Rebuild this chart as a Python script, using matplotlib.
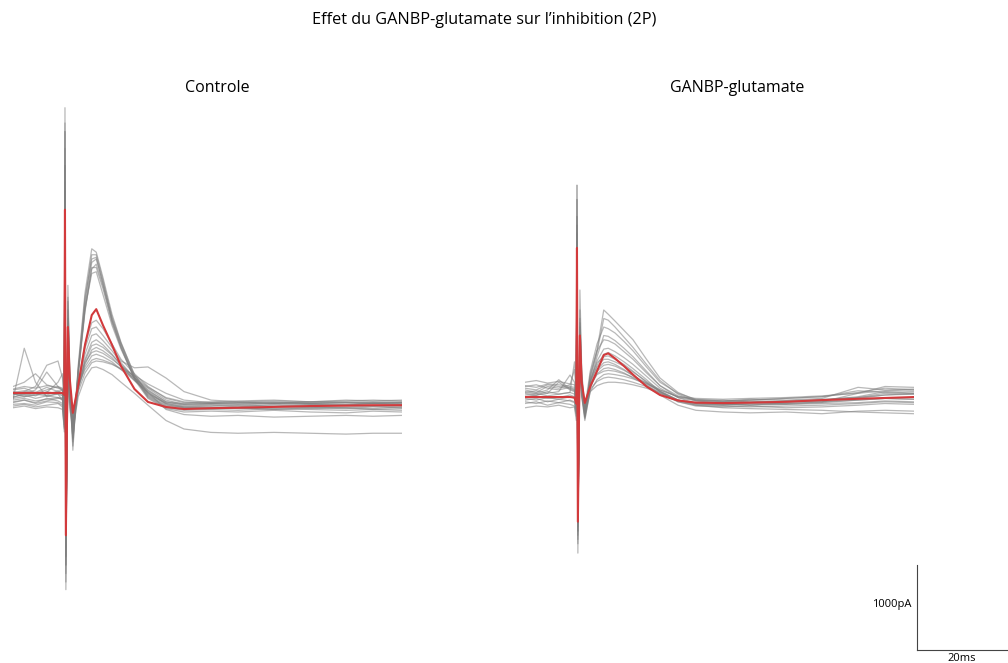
import numpy as np
import matplotlib
matplotlib.use('Agg')
import matplotlib.pyplot as plt

plt.rcParams['font.family'] = ['Open Sans', 'DejaVu Sans']

# time axis (ms), shared by both panels
t_ms = [0, 2.5, 5, 7.5, 10, 11.0, 11.4, 11.55, 11.75, 12.2, 12.6, 13.3, 14.5, 16,
        17.5, 18.5, 20, 22, 24, 27, 30, 34, 38, 44, 50, 58, 66, 74, 80, 86.4]

# Controle : individual sweeps (pA)
ctrl_sweeps = [
    [-30, 20, -10, 40, 10, -60, -300, 3380, -2290, 1290, 300, -650, 350, 1200, 1720, 1680, 1380, 950, 620, 230, 10, -100, -130, -120, -140, -110, -130, -120, -100, -110],
    [60, 80, 30, 0, 50, 20, -200, 3100, -2100, 1000, 200, -500, 280, 1100, 1650, 1650, 1350, 900, 600, 200, -20, -140, -170, -160, -150, -170, -150, -160, -140, -150],
    [-80, -60, -90, -40, -70, -100, -350, 2900, -1900, 900, 150, -450, 320, 1150, 1600, 1620, 1300, 870, 560, 180, -40, -160, -200, -190, -200, -180, -200, -210, -190, -200],
    [10, 0, 30, 90, 40, 60, -150, 2700, -2000, 1100, 250, -550, 260, 1050, 1560, 1600, 1320, 920, 610, 240, 20, -90, -110, -100, -90, -80, -100, -90, -80, -90],
    [-40, -20, 10, -10, -30, -50, -250, 2500, -1800, 800, 100, -600, 300, 1000, 1480, 1540, 1280, 880, 580, 210, -10, -130, -150, -140, -160, -150, -140, -150, -160, -140],
    [30, 50, 20, 60, 100, 80, -100, 2300, -1700, 700, 180, -400, 250, 980, 1500, 1500, 1250, 850, 560, 190, 0, -120, -140, -130, -120, -130, -110, -120, -130, -120],
    [-110, -100, -120, -80, -90, -120, -400, 3200, -2200, 1150, 220, -520, 240, 1020, 1430, 1450, 1180, 820, 540, 200, -30, -150, -180, -170, -180, -160, -170, -180, -170, -180],
    [100, 150, 250, 120, 80, 60, -200, 2100, -1500, 600, 100, -300, 150, 600, 850, 880, 780, 600, 420, 250, 100, -40, -90, -80, -70, -60, -80, -70, -60, -70],
    [-50, 550, 150, -20, 20, 0, -150, 1900, -1300, 500, 50, -250, 100, 550, 780, 800, 700, 560, 400, 320, 330, 200, 40, -60, -80, -70, -80, -60, -70, -60],
    [0, 40, 100, 350, 400, 200, -100, 2000, -1400, 450, 0, -350, 120, 480, 700, 720, 640, 520, 380, 200, 60, -80, -120, -110, -120, -100, -110, -120, -100, -110],
    [-90, -60, -100, -70, -40, -30, -250, 1800, -1600, 400, -50, -400, 80, 420, 620, 650, 590, 480, 350, 170, 30, -110, -150, -160, -150, -170, -160, -150, -170, -160],
    [40, 10, 60, 270, 100, 50, -120, 2200, -1200, 350, 0, -300, 100, 400, 580, 600, 560, 470, 360, 200, 50, -80, -100, -90, -80, -100, -90, -80, -90, -80],
    [-130, -110, -140, -120, -100, -140, -435, 1700, -1900, 500, -100, -500, 60, 360, 530, 560, 520, 440, 330, 180, 40, -100, -140, -150, -140, -130, -150, -140, -130, -140],
    [20, -20, 0, 30, 150, 250, -50, 2400, -1500, 300, 50, -250, 120, 380, 500, 520, 490, 420, 340, 220, 90, -30, -80, -100, -90, -100, -80, -90, -100, -90],
    [-20, 0, -40, -10, 10, -10, -200, 1900, -1700, 400, -20, -350, 90, 330, 460, 480, 450, 390, 300, 170, 30, -170, -230, -250, -240, -260, -250, -240, -250, -240],
    [70, 100, 80, 110, 90, 70, -100, 2000, -1300, 300, 30, -200, 110, 300, 410, 430, 410, 370, 300, 200, 80, -60, -110, -100, -110, -90, -100, -110, -90, -100],
    [-60, -40, -70, -50, -30, -60, -300, 1800, -2000, 250, -60, -300, 40, 260, 380, 400, 390, 360, 310, 230, 130, 20, -60, -90, -100, -90, -100, -90, -100, -90],
    [-150, -130, -160, -140, -150, -170, -380, 1600, -1600, 200, -150, -400, -20, 200, 320, 330, 300, 240, 150, 20, -120, -300, -400, -440, -450, -440, -450, -460, -450, -450],
]
ctrl_mean = [24, 24, 24, 24, 24, 24, 0, 2180, -1650, 800, 200, -210, 118, 590, 940, 1010, 820, 590, 340, 70, -82, -141, -165, -155, -150, -140, -130, -125, -120, -120]

# GANBP-glutamate : individual sweeps (pA)
gan_sweeps = [
    [60, 30, 100, 80, 120, 300, 0, 2470, -1860, 1235, 300, -260, 250, 530, 1000, 950, 870, 760, 650, 420, 200, 30, -60, -80, -60, -40, -20, 30, 80, 60],
    [-20, 0, 20, 150, 60, 40, -150, 2300, -1700, 1000, 200, -220, 200, 500, 900, 880, 800, 680, 560, 360, 170, 10, -70, -100, -120, -90, -60, -20, 40, 20],
    [100, 120, 80, 60, 90, 70, -80, 2100, -1600, 900, 250, -150, 280, 600, 800, 780, 730, 630, 520, 330, 150, 20, -50, -70, -50, -60, -40, 90, 60, 70],
    [-60, -40, -80, -50, -70, -90, -200, 2000, -1750, 850, 150, -250, 150, 450, 700, 690, 640, 550, 450, 280, 110, -30, -100, -120, -100, -110, -90, -60, -40, -50],
    [30, 50, 20, 40, 235, 150, -50, 1900, -1500, 800, 100, -200, 220, 520, 650, 640, 600, 510, 420, 260, 110, -10, -60, -60, -80, -70, -50, -30, 0, 20],
    [80, 60, 120, 100, 80, 60, -100, 1800, -1400, 700, 100, -200, 150, 400, 540, 550, 510, 440, 360, 220, 80, -30, -70, -90, -70, -80, -60, -30, 20, 10],
    [-100, -80, -120, -90, -110, -130, -250, 1700, -1500, 600, 50, -260, 120, 350, 480, 500, 460, 390, 310, 180, 40, -80, -120, -130, -140, -130, -120, -100, -80, -90],
    [0, 20, -10, 10, 30, 390, 100, 1600, -1300, 650, 80, -180, 180, 380, 450, 460, 420, 360, 280, 150, 40, -60, -100, -110, -90, -100, -80, 20, 100, 90],
    [150, 170, 140, 160, 130, 120, -50, 1750, -1450, 550, 120, -150, 160, 330, 420, 420, 390, 340, 270, 160, 60, -20, -40, -50, -40, -30, -10, 20, 50, 60],
    [-150, -130, -140, -120, -150, -140, -300, 1500, -1600, 500, 0, -300, 80, 300, 380, 390, 360, 300, 230, 110, 0, -120, -180, -200, -210, -200, -220, -190, -180, -190],
    [40, 20, 60, 180, 70, 50, -120, 1650, -1350, 600, 60, -200, 100, 280, 350, 360, 340, 290, 230, 140, 40, -60, -90, -80, -90, -70, -80, -60, -40, -50],
    [-40, -60, -30, -50, -20, -40, -180, 1550, -1550, 450, 30, -230, 90, 250, 310, 320, 300, 260, 200, 120, 20, -80, -130, -140, -130, -150, -140, -120, -100, -110],
    [110, 90, 130, 120, 100, 90, -60, 1700, -1250, 500, 90, -170, 120, 240, 280, 290, 280, 250, 210, 140, 60, -20, -60, -70, -60, -40, -20, 50, 30, 40],
    [-80, -100, -70, -90, -60, -80, -220, 1450, -1650, 400, -20, -280, 40, 180, 240, 250, 240, 220, 190, 130, 50, -60, -120, -150, -160, -170, -180, -200, -210, -220],
    [20, 0, 40, 10, 30, 10, -150, 1600, -1400, 450, 50, -200, 70, 160, 200, 210, 200, 180, 150, 100, 30, -70, -110, -120, -110, -100, -80, -40, 0, 10],
    [-20, -10, -40, -30, 0, -20, -170, 1500, -1500, 350, 0, -230, 40, 110, 140, 150, 150, 140, 120, 80, 20, -60, -100, -110, -120, -110, -100, -90, -70, -80],
]
gan_mean = [-24, -24, -24, -24, -24, -30, -100, 1730, -1490, 700, 150, -94, 100, 280, 470, 490, 430, 340, 240, 100, 0, -65, -90, -95, -90, -80, -60, -45, -35, -24]

titles = ['Controle', 'GANBP-glutamate']
suptitle = "Effet du GANBP-glutamate sur l\u2019inhibition (2P)"

W, H = 1008, 663
fig = plt.figure(figsize=(W / 100, H / 100), dpi=100)

# pixel scale: 4.5 px per ms, 0.085 px per pA
xlim = (0, 389 / 4.5)
ylim = ((395 - 600) / 0.085, (395 - 100) / 0.085)
gray = '#7f7f7f'
red = '#d23a3c'

axes = []
for left_px, sweeps, mean in [(13, ctrl_sweeps, ctrl_mean), (525, gan_sweeps, gan_mean)]:
    ax = fig.add_axes([left_px / W, (H - 600) / H, 389 / W, 500 / H])
    for s in sweeps:
        ax.plot(t_ms, s, color=gray, lw=0.9, alpha=0.55)
    ax.plot(t_ms, mean, color=red, lw=1.5)
    ax.set_xlim(xlim)
    ax.set_ylim(ylim)
    ax.axis('off')
    axes.append(ax)

fig.text(217 / W, 1 - 88 / H, titles[0], ha='center', va='center', fontsize=11.5)
fig.text(737 / W, 1 - 88 / H, titles[1], ha='center', va='center', fontsize=11.5)
fig.text(484 / W, 1 - 20 / H, suptitle, ha='center', va='center', fontsize=11.7)

# scale bar (20 ms / 1000 pA)
ax = axes[1]
x0 = (917 - 525) / 4.5
y0 = (395 - 650) / 0.085
ax.plot([x0, x0], [y0, y0 + 1000], color='#444444', lw=0.8, clip_on=False)
ax.plot([x0, x0 + 20], [y0, y0], color='#444444', lw=0.8, clip_on=False)
ax.text(x0 - 1.3, y0 + 530, '1000pA', ha='right', va='center', fontsize=8)
ax.text(x0 + 10, y0 - 105, '20ms', ha='center', va='center', fontsize=8)

fig.savefig('out.png', dpi=100)
